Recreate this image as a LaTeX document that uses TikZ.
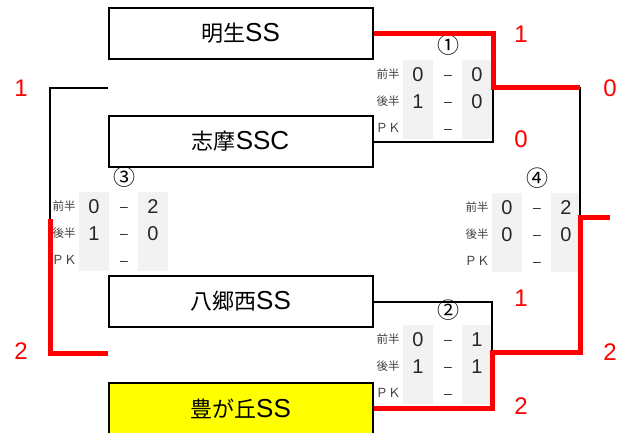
\documentclass[tikz,border=0pt]{standalone}
\usepackage{fontspec}
\setmainfont{Liberation Sans}
\newfontfamily\cjk{Noto Sans CJK JP}
\usepackage{xcolor}
\usetikzlibrary{positioning}
\definecolor{cellgray}{RGB}{242,242,242}
\definecolor{winred}{RGB}{255,0,0}
\definecolor{seedyellow}{RGB}{255,255,0}
\newcommand{\sz}[1]{\fontsize{#1}{#1}\selectfont}
\newcommand{\teamname}[2]{{\cjk\sz{22}#1}{\sz{26}#2}}
\newcommand{\dash}{\sz{14}\raisebox{2pt}{–}}
% score table: name, dash column x, top y, number, scores
\newcommand{\scoretable}[8]{%
     \fill[cellgray] (#2-45,#3+15) rectangle (#2-15,#3+94);
     \fill[cellgray] (#2+14,#3+15) rectangle (#2+44,#3+94);
     \node[matchno] (#1) at (#2,#3) {#4};
     \node[rowlab] (#1-h1) at (#2-60,#3+29) {前半};
     \node[score] (#1-a1) at (#2-30,#3+36) {#5};
     \node[score] (#1-d1) at (#2,#3+36) {\dash};
     \node[score] (#1-b1) at (#2+29,#3+36) {#6};
     \node[rowlab] (#1-h2) at (#2-60,#3+56) {後半};
     \node[score] (#1-a2) at (#2-30,#3+63) {#7};
     \node[score] (#1-d2) at (#2,#3+63) {\dash};
     \node[score] (#1-b2) at (#2+29,#3+63) {#8};
     \node[rowlab] (#1-pk) at (#2-60,#3+83) {\sz{12.5}ＰＫ};
     \node[score] (#1-d3) at (#2,#3+90) {\dash};
}

\begin{document}
\begin{tikzpicture}[x=1pt, y=-1pt,
     team/.style={draw, line width=2pt, minimum width=264pt, minimum height=51pt, inner sep=0pt},
     matchno/.style={inner sep=0pt, font=\cjk\sz{22}},
     rowlab/.style={inner sep=0pt, font=\cjk\sz{11.5}, text=black!75},
     score/.style={inner sep=0pt, anchor=base, font=\sz{20}, text=black!85},
     goal/.style={inner sep=0pt, font=\sz{24}, text=winred},
     blk/.style={line width=2pt},
     win/.style={line width=5pt, winred}]
     \useasboundingbox (0,0) rectangle (637,432);
     % teams
     \node[team] (meisei) at (240.5,33.5) {\teamname{明生}{SS}};
     \node[team, below=55pt of meisei] (shima) {\teamname{志摩}{SSC}};
     \node[team, below=107pt of shima] (hatago) {\teamname{八郷西}{SS}};
     \node[team, fill=seedyellow, below=54pt of hatago] (toyo) {\teamname{豊が丘}{SS}};
     %
     \scoretable{m1}{448}{45}{①}{0}{0}{1}{0}
     \scoretable{m2}{448}{310}{②}{0}{1}{1}{1}
     \scoretable{m3}{124}{177}{③}{0}{2}{1}{0}
     \scoretable{m4}{537}{178}{④}{0}{2}{0}{0}
     %
     \coordinate (w1) at (493,87);
     \coordinate (w2) at (492,352);
     \coordinate (a3) at (108,88);
     \coordinate (b3) at (108,353);
     \coordinate (w3) at (50,219);
     \coordinate (a4) at (580,87);
     \coordinate (b4) at (580,352);
     \coordinate (w4) at (580,217);
     \coordinate (e4) at (610,217);
     % bracket lines
     \draw[blk] (shima.east) -| (w1);
     \draw[blk] (hatago.east) -| (w2);
     \draw[blk] (a3) -| (w3);
     \draw[blk] (a4) -- (w4);
     \draw[win] (meisei.east) -| (w1) -- (a4);
     \draw[win] (toyo.east) -| (w2) -- (b4) |- (e4);
     \draw[win] (w3) |- (b3);
     % goals
     \node[goal] (g1a) at (521,34) {1};
     \node[goal] (g1b) at (521,139) {0};
     \node[goal] (g2a) at (521,298) {1};
     \node[goal] (g2b) at (521,406) {2};
     \node[goal] (g3a) at (21,88) {1};
     \node[goal] (g3b) at (21,351) {2};
     \node[goal] (g4a) at (610,88) {0};
     \node[goal] (g4b) at (610,352) {2};
\end{tikzpicture}
\end{document}
